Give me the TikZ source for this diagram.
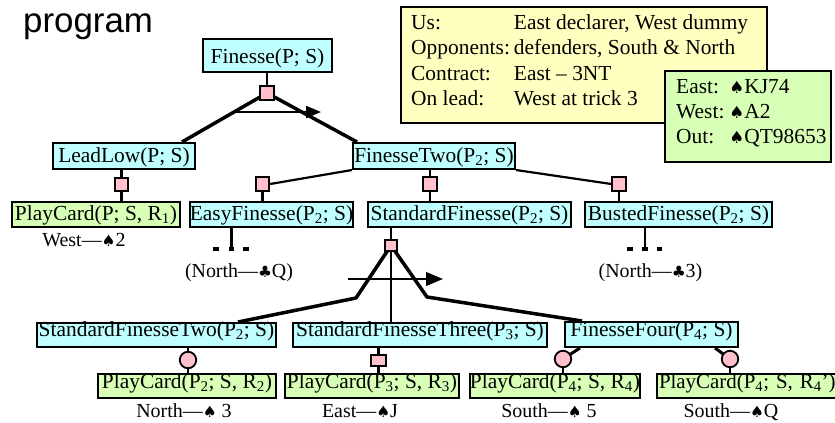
\documentclass[tikz,border=0pt]{standalone}
\usepackage{fontspec}
\usepackage{graphicx}
\setmainfont{Liberation Serif}
\newfontfamily\headfont{Liberation Sans}
\newfontfamily\suitfont{DejaVu Sans}
\usetikzlibrary{arrows.meta,calc}
\pgfdeclarelayer{wires}
\pgfsetlayers{wires,main}
\definecolor{goalfill}{RGB}{192,255,255}
\definecolor{actfill}{RGB}{216,255,182}
\definecolor{notefill}{RGB}{255,255,192}
\definecolor{knotfill}{RGB}{255,192,203}
\newcommand\spd{\scalebox{0.78}{\suitfont ♠}}
\newcommand\clb{\scalebox{0.78}{\suitfont ♣}}
\newcommand\lo[1]{\textsubscript{#1}}
\newcommand\boxfont{\fontsize{21.5}{25.5}\selectfont}
\newcommand\labelfont{\fontsize{20}{24}\selectfont}
\begin{document}
\begin{tikzpicture}[x=1bp,y=-1bp,
  box/.style={draw, line width=2bp, inner sep=0pt, font=\boxfont},
  goal/.style={box, fill=goalfill},
  act/.style={box, fill=actfill},
  dims/.style n args={4}{minimum width=#1bp, minimum height=#2bp, text height=#3bp, text depth=#4bp},
  note/.style={draw, line width=2.6bp, inner sep=0pt},
  andsq/.style={draw, line width=1.8bp, fill=knotfill, inner sep=0pt, minimum width=13.5bp, minimum height=13.5bp},
  orcirc/.style={circle, draw, line width=1.8bp, fill=knotfill, inner sep=0pt, minimum size=16.5bp},
  ellipdot/.style={fill=black, inner sep=0pt, minimum width=5.5bp, minimum height=4bp},
  wire/.style={line width=2.2bp},
  fork/.style={line width=3.5bp, line join=round},
  order/.style={line width=2.2bp, -{Triangle[length=#1bp, width=0.8*#1bp]}},
  lbl/.style={font=\labelfont, inner sep=0pt, anchor=base}]
\useasboundingbox (0,0) rectangle (835,422);
\clip (0,0) rectangle (835,422);

% heading
\node[anchor=base west, inner sep=0pt, font={\headfont\fontsize{35}{40}\selectfont}] (title) at (23,32) {program};

% goal and action boxes
\node[goal, dims={129}{33}{17.6}{2}] (fin) at (267.5,55.5) {Finesse(P; S)};
\node[goal, dims={142}{26}{15.4}{2}] (lead) at (124,156) {LeadLow(P; S)};
\node[goal, dims={162}{26}{15.4}{2}] (fin2) at (434,156) {FinesseTwo(P\lo{2}; S)};
\node[act,  dims={168}{25}{13}{2}] (pc1) at (96,214.5) {PlayCard(P; S, R\lo{1})};
\node[goal, dims={163}{25}{13}{2}] (easy) at (271.5,214.5) {EasyFinesse(P\lo{2}; S)};
\node[goal, dims={203}{25}{13}{2}] (std) at (469.5,214.5) {StandardFinesse(P\lo{2}; S)};
\node[goal, dims={187}{25}{13}{2}] (bust) at (678.5,214.5) {BustedFinesse(P\lo{2}; S)};
\node[goal, dims={239}{24}{5.4}{2}] (sf2) at (156.5,335) {StandardFinesseTwo(P\lo{2}; S)};
\node[goal, dims={254}{24}{5.4}{2}] (sf3) at (420,335) {StandardFinesseThree(P\lo{3}; S)};
\node[goal, dims={173}{25}{5.4}{2}] (ff4) at (651.5,334.5) {FinesseFour(P\lo{4}; S)};
\node[act,  dims={178}{24}{6.6}{2}] (pc2) at (187,386) {PlayCard(P\lo{2}; S, R\lo{2})};
\node[act,  dims={174}{24}{6.6}{2}] (pc3) at (372,386) {PlayCard(P\lo{3}; S, R\lo{3})};
\node[act,  dims={170}{24}{6.6}{2}] (pc4) at (555,386) {PlayCard(P\lo{4}; S, R\lo{4})};
\node[act,  dims={186}{24}{6.6}{2}, text width=182bp, align=left,
      font=\fontsize{21}{25}\selectfont] (pc5) at (750,386) {PlayCard(P\lo{4}; S, R\lo{4}’)};

% and-knots (squares) and or-knots (circles)
\node[andsq] (k0) at (267,93) {};
\node[andsq] (k1) at (121.5,184.5) {};
\node[andsq] (k2) at (262.5,184) {};
\node[andsq] (k3) at (430,184) {};
\node[andsq] (k4) at (619,184) {};
\node[andsq, minimum width=12.5bp, minimum height=11.5bp] (k5) at (391,245.5) {};
\node[andsq, minimum width=14.5bp, minimum height=11.5bp] (k6) at (378.5,360.5) {};
\node[orcirc] (o1) at (188,360) {};
\node[orcirc] (o2) at (563,359) {};
\node[orcirc] (o3) at (730,359) {};

% elided subtrees
\node[ellipdot] (e1) at (216,249) {};
\node[ellipdot] (e2) at (231.5,249) {};
\node[ellipdot] (e3) at (246,249) {};
\node[ellipdot] (b1) at (630,249) {};
\node[ellipdot] (b2) at (645,249) {};
\node[ellipdot] (b3) at (659.5,249) {};

% card annotations
\node[lbl] (w1) at (84,246) {West—\spd2};
\node[lbl] (n1) at (239,277) {(North—\clb Q)};
\node[lbl] (n2) at (650.5,277) {(North—\clb 3)};
\node[lbl] (t1) at (184,417) {North—\spd\ 3};
\node[lbl] (t2) at (360,417) {East—\spd J};
\node[lbl] (t3) at (549,417) {South—\spd\ 5};
\node[lbl] (t4) at (731,417) {South—\spd Q};

% deal information
\node[note, fill=notefill, minimum width=366bp, minimum height=116bp] (facts) at (584,65) {};
\node[anchor=base west, inner sep=0pt, font=\boxfont] (factsT) at (411,29.5)
  {\begin{tabular}[t]{@{}l@{\hspace{4bp}}l@{}}
   Us: & East declarer, West dummy\\
   Opponents: & defenders, South \& North\\
   Contract: & East – 3NT\\
   On lead: & West at trick 3
   \end{tabular}};
\node[note, fill=actfill, minimum width=166bp, minimum height=91bp] (hands) at (748,116.5) {};
\node[anchor=base west, inner sep=0pt, font=\boxfont] (handsT) at (676,93)
  {\begin{tabular}[t]{@{}l@{\hspace{5bp}}l@{}}
   East: & \spd KJ74\\
   West: & \spd A2\\
   Out: & \spd QT98653
   \end{tabular}};

% connectors
\coordinate (a0s) at (233,112);
\coordinate (a0e) at (321,112);
\coordinate (kL) at (356,298);
\coordinate (kR) at (427,297);
\coordinate (a1s) at (348,279);
\coordinate (a1e) at (443,279);
\begin{pgfonlayer}{wires}
  \draw[wire] (k0) -- (k0 |- fin.south);
  \draw[fork] (k0.center) -- ($(lead.north)+(58,0)$);
  \draw[fork] (k0.center) -- ($(fin2.north)+(-77,0)$);
  \draw[order=15] (a0s) -- (a0e);

  \draw[wire] (k1) -- (k1 |- lead.south);
  \draw[wire] (k1) -- (k1 |- pc1.north);
  \draw[wire] (k2.east) -- (fin2.south west);
  \draw[wire] (k2) -- (k2 |- easy.north);
  \draw[wire] (k3) -- (k3 |- fin2.south);
  \draw[wire] (k3) -- (k3 |- std.north);
  \draw[wire] (fin2.south east) -- (k4.west);
  \draw[wire] (k4) -- (k4 |- bust.north);
  \draw[wire] (e2.north) -- (e2 |- easy.south);
  \draw[wire] (b2.north) -- (b2 |- bust.south);

  \draw[wire] (k5) -- (k5 |- std.south);
  \draw[wire] (k5) -- (k5 |- sf3.north);
  \draw[fork] (k5.center) -- (kL) -- ($(sf2.north)+(81.5,0)$);
  \draw[fork] (k5.center) -- (kR) -- ($(ff4.north)+(-69.5,0)$);
  \draw[order=17] (a1s) -- (a1e);

  \draw[wire] (o1) -- (o1 |- sf2.south);
  \draw[wire] (o1) -- (o1 |- pc2.north);
  \draw[wire] (k6) -- (k6 |- sf3.south);
  \draw[wire] (k6) -- (k6 |- pc3.north);
  \draw[line width=3bp] ($(ff4.south)+(-71.5,0)$) -- (o2.center);
  \draw[wire] (o2) -- (o2 |- pc4.north);
  \draw[line width=3bp] ($(ff4.south)+(63.5,0)$) -- (o3.center);
  \draw[wire] (o3) -- (o3 |- pc5.north);
\end{pgfonlayer}
\end{tikzpicture}
\end{document}
